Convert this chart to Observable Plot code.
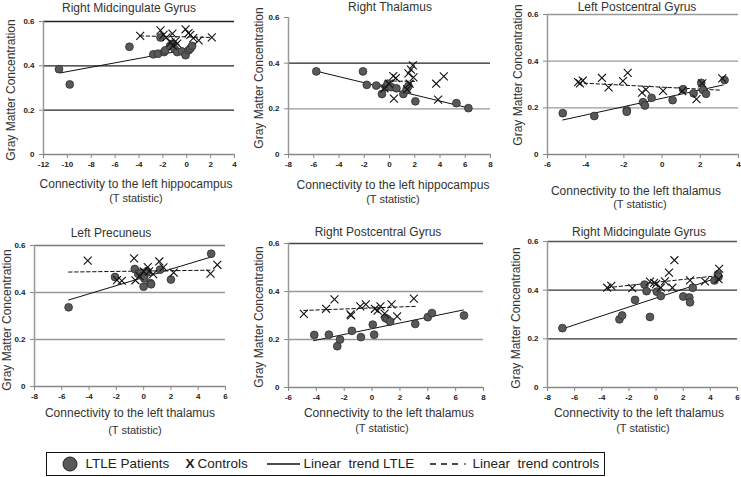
<!DOCTYPE html>
<html>
<head>
<meta charset="utf-8">
<script src="https://cdn.jsdelivr.net/npm/d3@7"></script>
<script src="https://cdn.jsdelivr.net/npm/@observablehq/plot@0.6"></script>
<style>
  html, body { margin: 0; padding: 0; background: white; }
  #chart { position: relative; width: 741px; height: 477px; overflow: hidden; font-family: "Liberation Sans", Arial, sans-serif; color: #333; }
  #chart > svg { position: absolute; left: 0; top: 0; }
  .txt { position: absolute; white-space: pre; transform: translate(-50%, -50%); font-size: 12px; line-height: 1; }
  .ylab { position: absolute; white-space: pre; transform: translate(-50%, -50%) rotate(-90deg); font-size: 12px; line-height: 1; }
  #legend { position: absolute; left: 46px; top: 452px; width: 557px; height: 22px; border: 1.5px solid #111; box-sizing: content-box; }
  .lt { position: absolute; top: 50%; transform: translateY(-50%); font-size: 13.5px; white-space: pre; line-height: 1; color: #222; }
  .lt svg { display: block; }
</style>
</head>
<body>
<div id="chart"></div>
<script>
// ---------------- DATA ----------------
const titles = ["Right Midcingulate Gyrus", "Right Thalamus", "Left Postcentral Gyrus",
                "Left Precuneus", "Right Postcentral Gyrus", "Right Midcingulate Gyrus"];
const xLabels = ["Connectivity to the left hippocampus", "Connectivity to the left hippocampus",
                 "Connectivity to the left thalamus", "Connectivity to the left thalamus",
                 "Connectivity to the left thalamus", "Connectivity to the left thalamus"];
const xSubLabel = "(T statistic)";
const yLabel = "Gray Matter Concentration";
const yTicks = [0, 0.2, 0.4, 0.6];
const xTicks1 = [-12, -10, -8, -6, -4, -2, 0, 2, 4];
const xTicks2 = [-8, -6, -4, -2, 0, 2, 4, 6, 8];
const xTicks3 = [-6, -4, -2, 0, 2, 4];
const xTicks4 = [-8, -6, -4, -2, 0, 2, 4, 6];
const xTicks5 = [-6, -4, -2, 0, 2, 4, 6, 8];
const xTicks6 = [-8, -6, -4, -2, 0, 2, 4, 6];

// Panel 1: Right Midcingulate Gyrus vs hippocampus
const p1Patients = [[-10.7,0.385],[-9.8,0.316],[-4.8,0.486],[-2.8,0.452],[-2.4,0.455],[-2.2,0.528],[-1.9,0.462],[-1.8,0.47],[-1.4,0.49],[-1.2,0.5],[-1.0,0.475],[-0.8,0.462],[-0.4,0.465],[-0.1,0.448],[0.15,0.47],[0.3,0.478],[0.45,0.49]];
const p1Controls = [[-3.9,0.535],[-2.2,0.56],[-1.95,0.54],[-1.7,0.528],[-1.2,0.545],[-1.35,0.505],[-1.15,0.49],[-0.95,0.51],[-0.8,0.5],[-0.1,0.565],[0.15,0.548],[0.3,0.54],[0.55,0.525],[1.0,0.515],[2.1,0.528]];
const p1TrendLTLE = [[-10.6,0.368],[0.5,0.478]];
const p1TrendCtrl = [[-3.9,0.535],[2.1,0.528]];

// Panel 2: Right Thalamus vs hippocampus
const p2Patients = [[-5.8,0.364],[-2.1,0.364],[-1.8,0.305],[-1.05,0.302],[-0.6,0.265],[-0.3,0.295],[-0.15,0.31],[0.15,0.295],[0.55,0.29],[1.1,0.265],[1.35,0.285],[1.5,0.3],[2.05,0.233],[5.3,0.225],[6.25,0.203]];
const p2Controls = [[-0.4,0.29],[-0.05,0.31],[0.3,0.343],[0.35,0.245],[0.5,0.335],[1.4,0.285],[1.5,0.355],[1.6,0.31],[1.7,0.372],[1.85,0.39],[1.9,0.338],[3.7,0.31],[3.85,0.24],[4.3,0.342]];
const p2TrendLTLE = [[-5.8,0.365],[6.25,0.204]];
const p2TrendCtrl = [[-0.2,0.322],[2.0,0.32]];

// Panel 3: Left Postcentral Gyrus vs thalamus
const p3Patients = [[-5.2,0.177],[-3.55,0.165],[-1.85,0.19],[-1.85,0.183],[-1.0,0.224],[-0.9,0.21],[-0.55,0.243],[0.55,0.233],[1.1,0.28],[1.65,0.262],[2.05,0.307],[2.15,0.276],[2.3,0.26],[3.27,0.319]];
const p3Controls = [[-4.4,0.31],[-4.3,0.305],[-4.15,0.317],[-3.15,0.328],[-2.8,0.288],[-2.05,0.315],[-1.8,0.35],[-1.05,0.265],[-0.85,0.278],[0.05,0.273],[1.05,0.272],[1.8,0.237],[2.1,0.305],[3.15,0.326]];
const p3TrendLTLE = [[-5.2,0.148],[3.2,0.298]];
const p3TrendCtrl = [[-4.4,0.307],[3.0,0.276]];

// Panel 4: Left Precuneus vs thalamus
const p4Patients = [[-5.5,0.337],[-2.1,0.466],[-0.65,0.5],[-0.4,0.48],[-0.2,0.485],[-0.1,0.47],[0.05,0.46],[0.0,0.425],[0.25,0.49],[0.5,0.44],[0.55,0.435],[1.2,0.497],[2.0,0.455],[4.95,0.565]];
const p4Controls = [[-4.1,0.536],[-1.95,0.453],[-1.6,0.45],[-0.7,0.545],[-0.6,0.452],[-0.3,0.47],[0.0,0.49],[0.3,0.508],[0.4,0.49],[0.7,0.478],[1.15,0.532],[1.45,0.507],[2.2,0.485],[4.9,0.48],[5.4,0.518]];
const p4TrendLTLE = [[-5.5,0.368],[5.0,0.552]];
const p4TrendCtrl = [[-5.5,0.487],[5.0,0.495]];

// Panel 5: Right Postcentral Gyrus vs thalamus
const p5Patients = [[-4.15,0.219],[-3.1,0.22],[-2.5,0.172],[-2.3,0.2],[-1.45,0.236],[-0.8,0.21],[0.05,0.262],[0.15,0.22],[0.95,0.29],[1.1,0.285],[1.3,0.275],[3.1,0.265],[4.0,0.293],[4.3,0.31],[6.6,0.3]];
const p5Controls = [[-4.9,0.307],[-3.3,0.328],[-2.7,0.367],[-1.55,0.305],[-1.5,0.3],[-0.85,0.338],[-0.45,0.346],[0.2,0.328],[0.4,0.32],[0.6,0.338],[0.9,0.308],[1.4,0.346],[1.8,0.296],[3.0,0.37]];
const p5TrendLTLE = [[-4.2,0.195],[6.55,0.323]];
const p5TrendCtrl = [[-4.9,0.321],[3.1,0.338]];

// Panel 6: Right Midcingulate Gyrus vs thalamus
const p6Patients = [[-6.9,0.244],[-2.7,0.28],[-2.5,0.296],[-1.55,0.36],[-0.85,0.423],[-0.7,0.396],[-0.45,0.29],[0.05,0.394],[0.35,0.376],[2.0,0.374],[2.45,0.37],[2.5,0.35],[2.7,0.41],[4.3,0.44],[4.55,0.465],[4.6,0.455]];
const p6Controls = [[-3.6,0.41],[-3.3,0.418],[-1.75,0.408],[-0.45,0.435],[-0.15,0.43],[0.0,0.425],[0.35,0.41],[0.65,0.436],[0.95,0.472],[1.2,0.41],[1.35,0.523],[2.5,0.44],[3.6,0.436],[4.65,0.488],[4.6,0.445]];
const p6TrendLTLE = [[-6.9,0.241],[4.6,0.452]];
const p6TrendCtrl = [[-3.6,0.41],[4.6,0.46]];

const legendLabels = ["LTLE Patients", "X", "Controls", "Linear  trend LTLE", "Linear  trend controls"];

// ---------------- LAYOUT / STYLE ----------------
const W = 741, H = 477;
const layout = [
  {x0: 43,  x1: 234, y0: 21,  y1: 154, grid: ["#222", "#222", "#222"], title: [129, 8],  xl: [136, 184], xs: [136, 198], yl: [11, 90]},
  {x0: 288, x1: 490, y0: 17,  y1: 154, grid: ["#999", "#222", null],   title: [390, 7],  xl: [393, 185], xs: [393, 199], yl: [259, 78]},
  {x0: 547, x1: 738, y0: 14,  y1: 154, grid: ["#999", "#999", "#999"], title: [637, 7],  xl: [636, 191], xs: [640, 204], yl: [518, 75]},
  {x0: 34,  x1: 225, y0: 245, y1: 386, grid: ["#999", "#999", "#777"], title: [111, 233], xl: [130, 413], xs: [135, 430], yl: [7, 320]},
  {x0: 288, x1: 483, y0: 243, y1: 387, grid: ["#999", "#999", "#444"], title: [378, 232], xl: [389, 413], xs: [382, 428], yl: [259, 317]},
  {x0: 547, x1: 737, y0: 241, y1: 387, grid: ["#333", "#333", "#555"], title: [639, 232], xl: [639, 413], xs: [643, 428], yl: [516, 318]}
];
const panelData = [
  {ticks: xTicks1, pat: p1Patients, ctl: p1Controls, tl: p1TrendLTLE, tc: p1TrendCtrl},
  {ticks: xTicks2, pat: p2Patients, ctl: p2Controls, tl: p2TrendLTLE, tc: p2TrendCtrl},
  {ticks: xTicks3, pat: p3Patients, ctl: p3Controls, tl: p3TrendLTLE, tc: p3TrendCtrl},
  {ticks: xTicks4, pat: p4Patients, ctl: p4Controls, tl: p4TrendLTLE, tc: p4TrendCtrl},
  {ticks: xTicks5, pat: p5Patients, ctl: p5Controls, tl: p5TrendLTLE, tc: p5TrendCtrl},
  {ticks: xTicks6, pat: p6Patients, ctl: p6Controls, tl: p6TrendLTLE, tc: p6TrendCtrl}
];

const chart = document.getElementById("chart");
const FONT = '"Liberation Sans", Arial, sans-serif';

panelData.forEach((pd, i) => {
  const L = layout[i];
  const xDom = [pd.ticks[0], pd.ticks[pd.ticks.length - 1]];
  const gridVals = yTicks.slice(1).filter((v, k) => L.grid[k]);
  const gridCols = yTicks.slice(1).map((v, k) => L.grid[k]).filter(c => c);
  const svg = Plot.plot({
    width: W, height: H,
    marginLeft: L.x0, marginRight: W - L.x1, marginTop: L.y0, marginBottom: H - L.y1,
    x: {domain: xDom, label: null},
    y: {domain: [0, 0.6], label: null},
    style: {background: "none", overflow: "visible", fontFamily: FONT},
    marks: [
      Plot.ruleY(gridVals, {stroke: (d, k) => gridCols[k], strokeWidth: 1.3}),
      Plot.ruleY([0], {stroke: "#888", strokeWidth: 1.5}),
      Plot.ruleX([xDom[0]], {stroke: "#999", strokeWidth: 1.5}),
      Plot.axisX({ticks: pd.ticks, tickSize: 4, tickPadding: 3, stroke: "#888", fill: "#222",
                  fontSize: 8, fontWeight: "bold", tickFormat: d => String(d), label: null}),
      Plot.axisY({ticks: yTicks, tickSize: 4, tickPadding: 5, stroke: "#888", fill: "#222",
                  fontSize: 8, fontWeight: "bold", tickFormat: d => String(d), label: null}),
      Plot.line(pd.tl, {x: d => d[0], y: d => d[1], stroke: "#111", strokeWidth: 1}),
      Plot.line(pd.tc, {x: d => d[0], y: d => d[1], stroke: "#111", strokeWidth: 1, strokeDasharray: "3.5,2.5"}),
      Plot.dot(pd.pat, {x: d => d[0], y: d => d[1], r: 3.9, fill: "#595959", stroke: "#2e2e2e", strokeWidth: 0.8}),
      Plot.dot(pd.ctl, {x: d => d[0], y: d => d[1], r: 3.7, symbol: "times", stroke: "#111", strokeWidth: 1.1})
    ]
  });
  chart.appendChild(svg);

  const addText = (cls, txt, pos, extra) => {
    const d = document.createElement("div");
    d.className = cls;
    d.textContent = txt;
    d.style.left = pos[0] + "px";
    d.style.top = pos[1] + "px";
    if (extra) Object.assign(d.style, extra);
    chart.appendChild(d);
  };
  addText("txt", titles[i], L.title);
  addText("txt", xLabels[i], L.xl);
  addText("txt", xSubLabel, L.xs, {fontSize: "11px"});
  addText("ylab", yLabel, L.yl);
});

// ---------------- LEGEND ----------------
const legend = document.createElement("div");
legend.id = "legend";
const lx = 46 + 1.5; // inner left
const addL = (html, left, extra) => {
  const d = document.createElement("div");
  d.className = "lt";
  d.innerHTML = html;
  d.style.left = (left - lx) + "px";
  if (extra) Object.assign(d.style, extra);
  legend.appendChild(d);
};
addL('<svg width="16" height="16"><circle cx="8" cy="8" r="7" fill="#595959" stroke="#222" stroke-width="1"/></svg>', 62);
addL(legendLabels[0], 86);
addL(legendLabels[1], 186, {fontWeight: "bold"});
addL(legendLabels[2], 198);
addL('<svg width="34" height="4"><line x1="0" y1="2" x2="33" y2="2" stroke="#111" stroke-width="1.5"/></svg>', 267);
addL(legendLabels[3], 304);
addL('<svg width="38" height="4"><line x1="0" y1="2" x2="30" y2="2" stroke="#111" stroke-width="1.5" stroke-dasharray="6,5"/><line x1="34" y1="2" x2="36" y2="2" stroke="#111" stroke-width="1.2"/></svg>', 430);
addL(legendLabels[4], 473);
chart.appendChild(legend);
</script>
</body>
</html>
